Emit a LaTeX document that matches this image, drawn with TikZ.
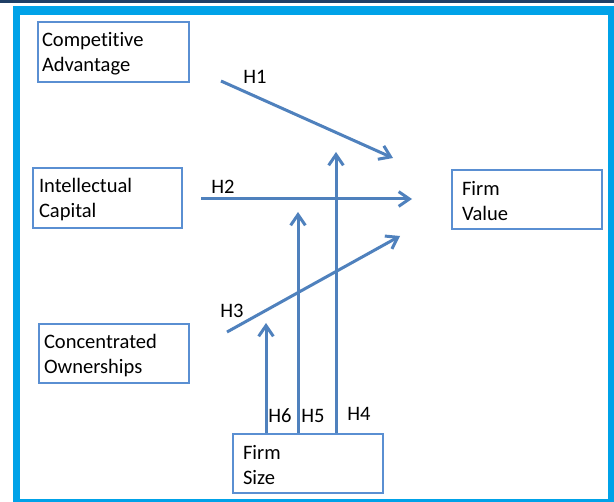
\documentclass[tikz,border=0pt]{standalone}
\usepackage{fontspec}
\setmainfont{Carlito}[Ligatures=NoCommon]
\usetikzlibrary{arrows.meta}
\definecolor{navybar}{HTML}{1F3F66}
\definecolor{framecyan}{HTML}{00A2E8}
\definecolor{boxblue}{HTML}{5A8FD2}
\definecolor{linkblue}{HTML}{4F81BD}
\begin{document}
\begin{tikzpicture}[x=0.75pt,y=-0.75pt,
  factor/.style={draw=boxblue,line width=2pt,fill=white,align=left,
    font=\fontsize{15.4}{18.75}\selectfont,inner ysep=0pt,
    execute at begin node={\rule{0pt}{13.5pt}}},
  link/.style={draw=linkblue,line width=2.25pt,-{Straight Barb[length=8pt,width=11pt]}},
  hyp/.style={font=\fontsize{15.4}{18.75}\selectfont,inner sep=0pt}]
\useasboundingbox (0,0) rectangle (614,502);
%frame
\fill[navybar] (0,0) rectangle (614,3);
\fill[framecyan] (13,6) rectangle (614,502);
\fill[white] (20,15) rectangle (608,499);
%factors
\node[factor,minimum width=113.25pt,minimum height=45pt,inner xsep=3pt,text width=107.25pt] (ca) at (113.5,52) {Competitive\\Advantage};
\node[factor,minimum width=111.75pt,minimum height=45pt,inner xsep=4.5pt,text width=102.75pt] (ic) at (107.5,198) {Intellectual\\Capital};
\node[factor,minimum width=112.5pt,minimum height=44.25pt,inner xsep=3.75pt,text width=105pt] (co) at (114,353.5) {Concentrated\\Ownerships};
\node[factor,minimum width=112.5pt,minimum height=44.25pt,inner xsep=7.5pt,text width=97.5pt] (fv) at (527,199.5) {Firm\\Value};
\node[factor,minimum width=112.5pt,minimum height=44.25pt,inner xsep=7.5pt,text width=97.5pt] (fs) at (308,463.5) {Firm\\Size};
%line ends
\coordinate (h1s) at (221,81);
\coordinate (h1e) at (393,158);
\coordinate (h2s) at (201,199);
\coordinate (h2e) at (412,199);
\coordinate (h3s) at (227,332);
\coordinate (h3e) at (400,236);
\coordinate (h4e) at (336,152);
\coordinate (h5e) at (298,212);
\coordinate (h6e) at (266,323);
%H1
\draw[link] (h1s) -- (h1e);
\node[hyp] (l1) at (255,77) {H1};
%H2
\draw[link] (h2s) -- (h2e);
\node[hyp] (l2) at (223,187) {H2};
%H3
\draw[link] (h3s) -- (h3e);
\node[hyp] (l3) at (232,311) {H3};
%H4
\draw[link] (fs.north -| h4e) -- (h4e);
\node[hyp] (l4) at (359,414) {H4};
%H5
\draw[link] (fs.north -| h5e) -- (h5e);
\node[hyp] (l5) at (313,416) {H5};
%H6
\draw[link] (fs.north -| h6e) -- (h6e);
\node[hyp] (l6) at (280,416) {H6};
\end{tikzpicture}
\end{document}
